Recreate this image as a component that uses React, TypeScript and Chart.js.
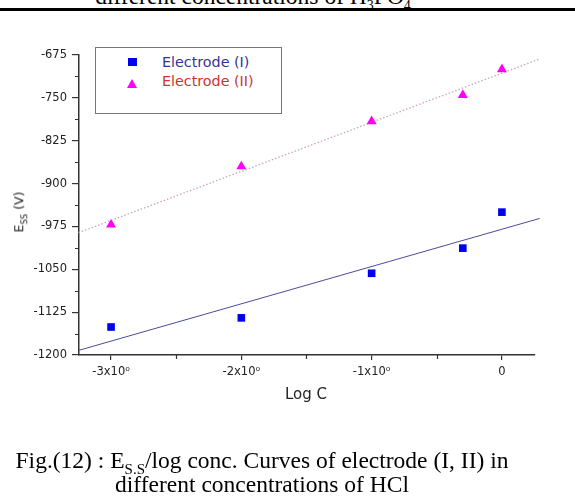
import React, { useEffect, useRef } from "react";
import { Chart, registerables } from "chart.js";

Chart.register(...registerables);

// ---- data ----
const logC = [-3, -2, -1, -0.3, 0];
const electrodeI = [-1151, -1135, -1057, -1013, -950];
const electrodeII = [-972, -870, -791, -745, -700];
const fitLogC = [-3.25, 0.29];
const fitI = [-1192, -961];
const fitII = [-986, -682];
const xTicks = [-3, -2, -1, 0];
const xMinorTicks = [-2.5, -1.5, -0.5];
const yTicks = [-1200, -1125, -1050, -975, -900, -825, -750, -675];
const yMinorTicks = [-1162.5, -1087.5, -1012.5, -937.5, -862.5, -787.5, -712.5];

const AXIS = "#333";
const TICK_FONT = { family: "'DejaVu Sans', sans-serif", size: 11.5 };

const minorTicksPlugin = {
  id: "minorTicks",
  afterDraw(chart: any) {
    const { ctx, scales } = chart;
    const x = scales.x;
    const y = scales.y;
    ctx.save();
    ctx.strokeStyle = AXIS;
    ctx.lineWidth = 1.2;
    ctx.beginPath();
    for (const v of yMinorTicks) {
      const py = Math.round(y.getPixelForValue(v)) + 0.5;
      ctx.moveTo(x.left, py);
      ctx.lineTo(x.left - 4, py);
    }
    for (const v of xMinorTicks) {
      const px = Math.round(x.getPixelForValue(v)) + 0.5;
      ctx.moveTo(px, y.bottom);
      ctx.lineTo(px, y.bottom + 4);
    }
    ctx.stroke();
    ctx.restore();
  },
};

function ChartCanvas() {
  const ref = useRef<HTMLCanvasElement | null>(null);
  useEffect(() => {
    if (!ref.current) return;
    const chart = new Chart(ref.current, {
      type: "scatter",
      data: {
        datasets: [
          {
            label: "Electrode (I)",
            data: logC.map((x, i) => ({ x, y: electrodeI[i] })),
            pointStyle: "rect",
            pointRadius: 5.4,
            pointBackgroundColor: "#0000ee",
            pointBorderColor: "#0000ee",
            pointBorderWidth: 0,
            showLine: false,
          },
          {
            label: "Electrode (II)",
            data: logC.map((x, i) => ({ x, y: electrodeII[i] })),
            pointStyle: "triangle",
            pointRadius: 5.8,
            pointBackgroundColor: "#ff00ff",
            pointBorderColor: "#ff00ff",
            pointBorderWidth: 0,
            showLine: false,
          },
          {
            label: "fit I",
            data: fitLogC.map((x, i) => ({ x, y: fitI[i] })),
            showLine: true,
            borderColor: "#4b4b9c",
            borderWidth: 1,
            pointRadius: 0,
            clip: false,
          } as any,
          {
            label: "fit II",
            data: fitLogC.map((x, i) => ({ x, y: fitII[i] })),
            showLine: true,
            borderColor: "#c9a3c5",
            borderWidth: 1.3,
            borderDash: [1.5, 2],
            pointRadius: 0,
            clip: false,
          } as any,
        ],
      },
      options: {
        responsive: false,
        animation: false,
        devicePixelRatio: 1,
        layout: { padding: { left: 0, top: 55, right: 40, bottom: 113 } },
        plugins: { legend: { display: false }, tooltip: { enabled: false } },
        scales: {
          x: {
            type: "linear",
            min: -3.246,
            max: 0.254,
            afterFit: (s: any) => {
              s.height = 30;
            },
            afterBuildTicks: (s: any) => {
              s.ticks = xTicks.map((v) => ({ value: v }));
            },
            ticks: {
              callback: (v: any) => (v === 0 ? "0" : `${v}x10\u2070`),
              font: TICK_FONT,
              color: "#222",
              padding: 5,
              maxRotation: 0,
              autoSkip: false,
            },
            grid: { drawOnChartArea: false, tickLength: 5, color: AXIS, lineWidth: 1.2 },
            border: { color: AXIS, width: 1.5 },
          },
          y: {
            type: "linear",
            min: -1200,
            max: -675,
            afterFit: (s: any) => {
              s.width = 79;
            },
            afterBuildTicks: (s: any) => {
              s.ticks = yTicks.map((v) => ({ value: v }));
            },
            ticks: {
              callback: (v: any) => String(v),
              font: TICK_FONT,
              color: "#222",
              padding: 5,
              autoSkip: false,
            },
            grid: { drawOnChartArea: false, tickLength: 7, color: AXIS, lineWidth: 1.2 },
            border: { color: AXIS, width: 1.5 },
          },
        },
      },
      plugins: [minorTicksPlugin],
    });
    return () => chart.destroy();
  }, []);
  return (
    <canvas
      ref={ref}
      width={575}
      height={498}
      style={{ position: "absolute", left: 0, top: 0 }}
    />
  );
}

export default function App() {
  const sans = "'DejaVu Sans', sans-serif";
  const serif = "'Liberation Serif', 'Times New Roman', serif";
  return (
    <div
      style={{
        position: "absolute",
        left: 0,
        top: 0,
        width: 575,
        height: 498,
        overflow: "hidden",
        background: "#fff",
      }}
    >
      {/* cut-off previous caption and rule */}
      <div
        style={{
          position: "absolute",
          left: 0,
          width: 506,
          top: -15,
          fontFamily: serif,
          fontSize: 23.5,
          lineHeight: "23px",
          textAlign: "center",
          whiteSpace: "nowrap",
        }}
      >
        different concentrations of H<sub style={{ fontSize: 14, lineHeight: 0 }}>3</sub>PO
        <sub style={{ fontSize: 14, lineHeight: 0 }}>4</sub>
      </div>
      <div
        style={{
          position: "absolute",
          left: 0,
          top: 8,
          width: 575,
          height: 3,
          background: "#000",
        }}
      />

      <ChartCanvas />

      {/* legend */}
      <div
        style={{
          position: "absolute",
          left: 95,
          top: 47,
          width: 185,
          height: 65,
          border: "1.5px solid #777",
          background: "#fff",
        }}
      />
      <div
        style={{
          position: "absolute",
          left: 128,
          top: 58,
          width: 9,
          height: 8,
          background: "#0000ee",
        }}
      />
      <div
        style={{
          position: "absolute",
          left: 127,
          top: 79,
          width: 0,
          height: 0,
          borderLeft: "5.5px solid transparent",
          borderRight: "5.5px solid transparent",
          borderBottom: "9px solid #ff00ff",
        }}
      />
      <div
        style={{
          position: "absolute",
          left: 162,
          top: 54,
          fontFamily: sans,
          fontSize: 14.3,
          lineHeight: "17px",
          color: "#333399",
          whiteSpace: "nowrap",
        }}
      >
        Electrode (I)
      </div>
      <div
        style={{
          position: "absolute",
          left: 162,
          top: 73,
          fontFamily: sans,
          fontSize: 14.3,
          lineHeight: "17px",
          color: "#cc3333",
          whiteSpace: "nowrap",
        }}
      >
        Electrode (II)
      </div>

      {/* y axis title */}
      <div
        style={{
          position: "absolute",
          left: 20,
          top: 212,
          transform: "translate(-50%, -50%) rotate(-90deg)",
          fontFamily: sans,
          fontSize: 12.5,
          color: "#222",
          whiteSpace: "nowrap",
        }}
      >
        E<sub style={{ fontSize: 8.5 }}>SS</sub> (V)
      </div>

      {/* x axis title */}
      <div
        style={{
          position: "absolute",
          left: 306,
          top: 394,
          transform: "translate(-50%, -50%)",
          fontFamily: sans,
          fontSize: 15,
          color: "#222",
          whiteSpace: "nowrap",
        }}
      >
        Log C
      </div>

      {/* caption */}
      <div
        style={{
          position: "absolute",
          left: 0,
          width: 524,
          top: 448,
          fontFamily: serif,
          fontSize: 23.5,
          lineHeight: "24px",
          textAlign: "center",
          whiteSpace: "nowrap",
          color: "#000",
        }}
      >
        <div>
          Fig.(12) : E<sub style={{ fontSize: 15, lineHeight: 0 }}>S.S</sub>/log conc. Curves of
          electrode (I, II) in
        </div>
        <div>different concentrations of HCl</div>
      </div>
    </div>
  );
}
